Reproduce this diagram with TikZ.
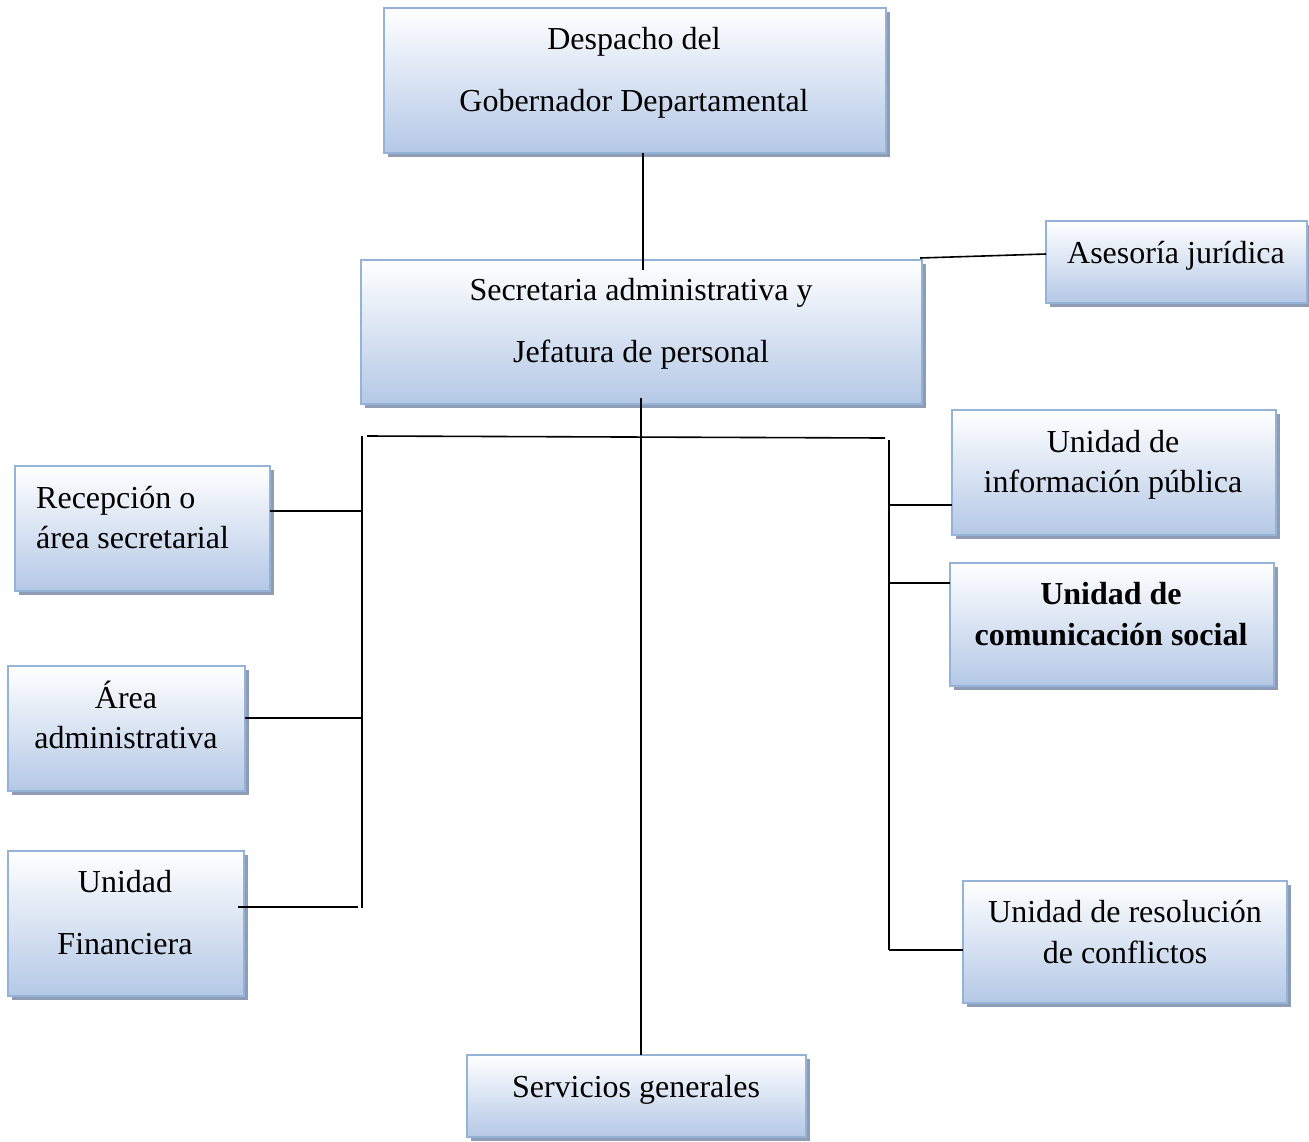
\documentclass[tikz,border=0pt]{standalone}
\usepackage{fontspec}
\setmainfont{Liberation Serif}
\usetikzlibrary{shadows}
\definecolor{bord}{HTML}{95B3D7}
\definecolor{boxbot}{HTML}{B4C8E6}
\definecolor{shad}{HTML}{8E9CB5}
\tikzset{
  orgbox/.style={draw=bord, line width=2pt, top color=white, bottom color=boxbot,
    inner sep=0pt, outer sep=0pt,
    drop shadow={shadow xshift=4pt, shadow yshift=-4pt, fill=shad, opacity=1}},
  lbl/.style={anchor=base, inner sep=0pt, font=\fontsize{32}{38}\selectfont},
  lblb/.style={lbl, font=\fontsize{32}{38}\selectfont\bfseries},
  conn/.style={draw=black, line width=1.6pt}
}
\begin{document}
\begin{tikzpicture}[x=1pt,y=-1pt]
\useasboundingbox[fill=white] (0,0) rectangle (1309,1141);
% boxes
\node[orgbox, minimum width=502pt, minimum height=145pt] (desp) at (635,80.5) {};
\node[orgbox, minimum width=561pt, minimum height=144pt] (sec) at (641.5,332) {};
\node[orgbox, minimum width=261pt, minimum height=82pt] (ases) at (1176.5,262) {};
\node[orgbox, minimum width=255pt, minimum height=125pt] (rec) at (142.5,528.5) {};
\node[orgbox, minimum width=237pt, minimum height=125pt] (area) at (126.5,728.5) {};
\node[orgbox, minimum width=236pt, minimum height=145pt] (fin) at (126,923.5) {};
\node[orgbox, minimum width=324pt, minimum height=125pt] (info) at (1114,472.5) {};
\node[orgbox, minimum width=324pt, minimum height=123pt] (com) at (1112,624.5) {};
\node[orgbox, minimum width=324pt, minimum height=122pt] (res) at (1125,942) {};
\node[orgbox, minimum width=339pt, minimum height=82pt] (serv) at (636.5,1096) {};
% labels
\node[lbl] (t1a) at (634,49) {Despacho del};
\node[lbl] (t1b) at (634,111) {Gobernador Departamental};
\node[lbl] (t2a) at (641,300) {Secretaria administrativa y};
\node[lbl] (t2b) at (641,362) {Jefatura de personal};
\node[lbl] (t3) at (1176,263) {Asesoría jurídica};
\node[lbl, anchor=base west] (t4a) at (36,508) {Recepción o};
\node[lbl, anchor=base west] (t4b) at (36,548) {área secretarial};
\node[lbl] (t5a) at (126,708) {Área};
\node[lbl] (t5b) at (126,748) {administrativa};
\node[lbl] (t6a) at (125,892) {Unidad};
\node[lbl] (t6b) at (125,954) {Financiera};
\node[lbl] (t7a) at (1113,452) {Unidad de};
\node[lbl] (t7b) at (1113,492) {información pública};
\node[lblb] (t8a) at (1111,604) {Unidad de};
\node[lblb] (t8b) at (1111,645) {comunicación social};
\node[lbl] (t9a) at (1125,922) {Unidad de resolución};
\node[lbl] (t9b) at (1125,963) {de conflictos};
\node[lbl] (t10) at (636,1097) {Servicios generales};
% junction coordinates
\coordinate (j0) at (643,270);
\coordinate (ja) at (920,258);
\coordinate (jb) at (1046,254);
\coordinate (jm) at (641,398);
\coordinate (hl) at (367,436);
\coordinate (hr) at (885,438);
\coordinate (lt) at (362,436);
\coordinate (lb) at (362,908);
\coordinate (rt) at (889,440);
\coordinate (rb) at (889,950);
\coordinate (fs) at (238,907);
% connectors
\draw[conn] (desp.south -| j0) -- (j0);
\draw[conn] (ja) -- (jb);
\draw[conn] (jm) -- (serv.north -| jm);
\draw[conn] (hl) -- (hr);
\draw[conn] (lt) -- (lb);
\draw[conn] (rt) -- (rb);
\draw[conn] (rec.east |- 0,511) -- (362,511);
\draw[conn] (area.east |- 0,718) -- (362,718);
\draw[conn] (fs) -- (358,907);
\draw[conn] (889,505) -- (info.west |- 0,505);
\draw[conn] (889,583) -- (com.west |- 0,583);
\draw[conn] (rb) -- (res.west |- rb);
\end{tikzpicture}
\end{document}
